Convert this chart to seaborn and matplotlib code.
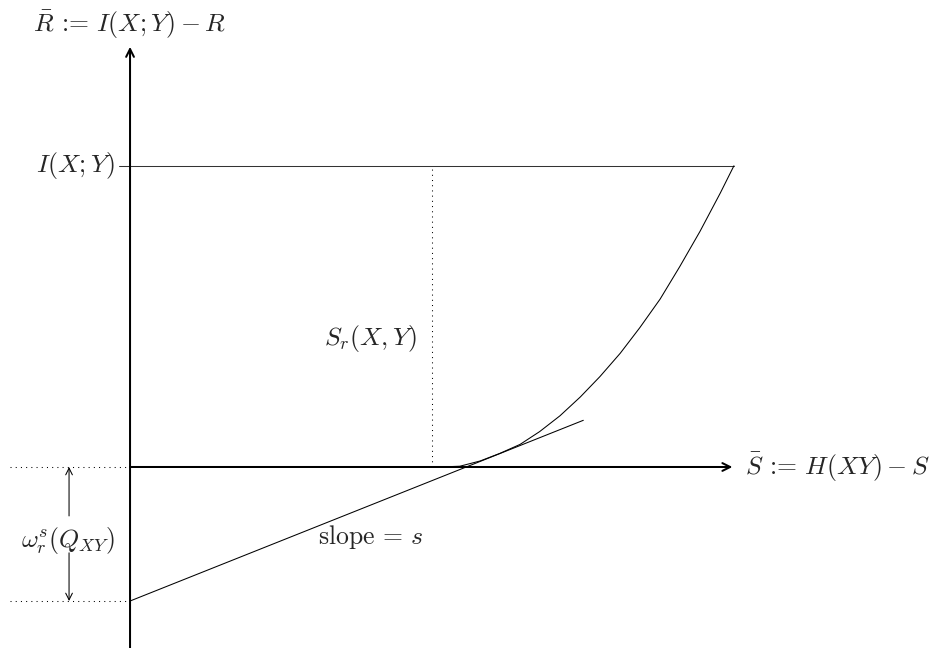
import matplotlib
matplotlib.use("Agg")
import matplotlib.pyplot as plt
import seaborn as sns
import pandas as pd

sns.set_style("white")
plt.rcParams['mathtext.fontset'] = 'cm'
plt.rcParams['font.family'] = ['cmr10', 'DejaVu Serif']

# curve points (axis units)
curve_x = [4.12, 4.38, 4.65, 4.91, 5.18, 5.44, 5.71, 5.98, 6.24, 6.51, 6.77, 7.04, 7.30, 7.57, 7.84, 8.02]
curve_y = [0.00, 0.01, 0.08, 0.18, 0.30, 0.47, 0.68, 0.93, 1.20, 1.51, 1.85, 2.23, 2.66, 3.13, 3.64, 4.00]

# tangent line with slope s
tangent_x = [0.0, 6.02]
tangent_y = [-1.78, 0.62]

mi_level = 4.0        # I(X;Y)
sr_x = 4.01           # where S_r(X,Y) is marked
omega = -1.78         # intercept of the tangent
x_end = 8.0
y_top = 5.58

curve = pd.DataFrame({'x': curve_x, 'y': curve_y})
tangent = pd.DataFrame({'x': tangent_x, 'y': tangent_y})

fig = plt.figure(figsize=(9.33, 6.48), dpi=100)
ax = fig.add_axes([0, 0, 1, 1])
ax.set_xlim(-1.727, 10.664)
ax.set_ylim(-2.404, 6.202)
ax.axis('off')

fs = 18.5
thin = 0.75
thick = 1.45

# axes with arrow heads
ax.annotate('', xy=(0, y_top), xytext=(0, -2.404),
            arrowprops=dict(arrowstyle='->', lw=thick, color='black',
                            shrinkA=0, shrinkB=0, mutation_scale=14))
ax.annotate('', xy=(x_end, 0), xytext=(0, 0),
            arrowprops=dict(arrowstyle='->', lw=thick, color='black',
                            shrinkA=0, shrinkB=0, mutation_scale=14))

# I(X;Y) level
ax.plot([-0.15, curve_x[-1]], [mi_level, mi_level], color='#333333', lw=thin)

# curve and tangent
sns.lineplot(data=curve, x='x', y='y', ax=ax, color='black', lw=thin, sort=False)
sns.lineplot(data=tangent, x='x', y='y', ax=ax, color='black', lw=thin)

# dotted guides
ax.plot([sr_x, sr_x], [0, mi_level], color='black', lw=thin, ls=(0, (1, 4)))
ax.plot([-1.6, 0], [0, 0], color='black', lw=thin, ls=(0, (1, 4)))
ax.plot([-1.6, 0], [omega, omega], color='black', lw=thin, ls=(0, (1, 4)))

# double arrow for omega
ax.annotate('', xy=(-0.81, 0), xytext=(-0.81, -0.65),
            arrowprops=dict(arrowstyle='->', lw=thin, color='black',
                            shrinkA=0, shrinkB=0, mutation_scale=12))
ax.annotate('', xy=(-0.81, omega), xytext=(-0.81, -1.14),
            arrowprops=dict(arrowstyle='->', lw=thin, color='black',
                            shrinkA=0, shrinkB=0, mutation_scale=12))

# labels
ax.text(0, 5.87, r'$\bar{R}$ := $I(X;Y) - R$', ha='center', va='center', fontsize=fs)
ax.text(-0.2, mi_level, r'$I(X;Y)$', ha='right', va='center', fontsize=fs)
ax.text(8.17, 0, r'$\bar{S}$ := $H(XY) - S$', ha='left', va='center', fontsize=fs)
ax.text(3.19, 1.71, r'$S_r(X,Y)$', ha='center', va='center', fontsize=fs)
ax.text(3.2, -0.93, r'slope = $s$', ha='center', va='center', fontsize=fs)
ax.text(-0.82, -0.97, r'$\omega_r^s(Q_{XY})$', ha='center', va='center', fontsize=fs)

fig.savefig('out.png', dpi=100)
